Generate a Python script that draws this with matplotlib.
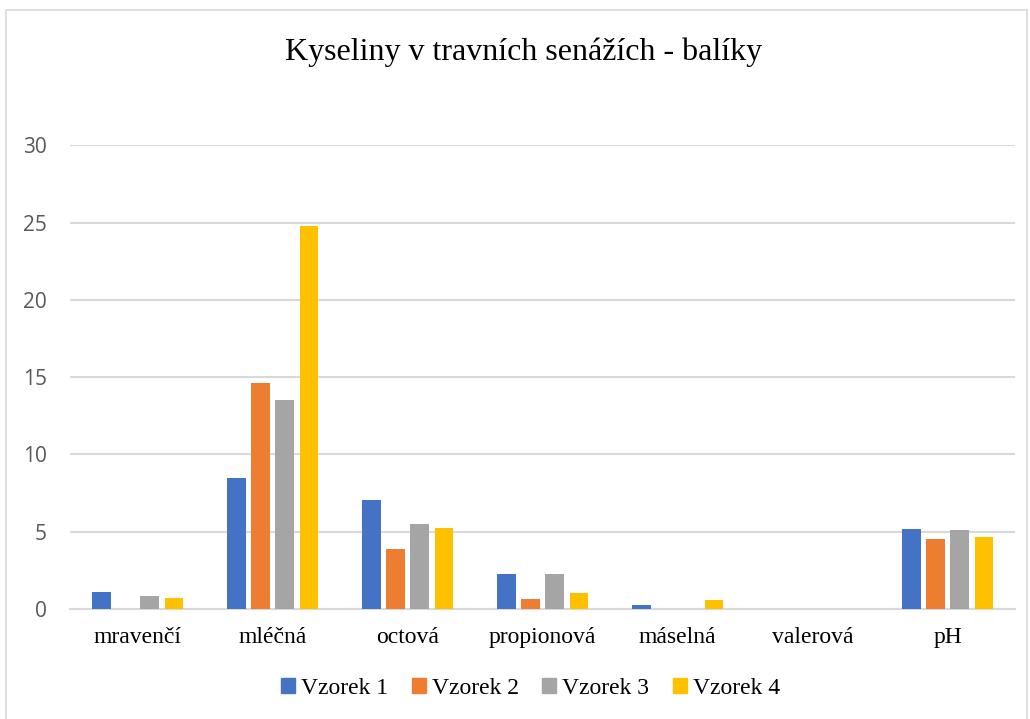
import matplotlib.pyplot as plt
import matplotlib.patches as mpatches
import numpy as np

categories = ["mravenčí", "mléčná", "octová", "propionová", "máselná", "valerová", "pH"]
vzorek_1 = [1.12, 8.45, 7.08, 2.28, 0.28, 0, 5.15]
vzorek_2 = [0, 14.62, 3.89, 0.65, 0, 0, 4.54]
vzorek_3 = [0.85, 13.5, 5.53, 2.24, 0, 0, 5.12]
vzorek_4 = [0.72, 24.8, 5.25, 1.03, 0.55, 0, 4.63]
series = [("Vzorek 1", vzorek_1), ("Vzorek 2", vzorek_2),
          ("Vzorek 3", vzorek_3), ("Vzorek 4", vzorek_4)]
colors = ["#4472C4", "#ED7D31", "#A5A5A5", "#FFC000"]

serif = "Liberation Serif"

fig = plt.figure(figsize=(10.3, 7.19), dpi=100)
ax = fig.add_axes([0.068, 0.153, 0.9175, 0.645])

x = np.arange(len(categories))
step = 0.18
width = 0.14
for i, (name, vals) in enumerate(series):
    ax.bar(x + (i - 1.5) * step, vals, width, color=colors[i], label=name, zorder=3)

ax.set_xlim(-0.5, len(categories) - 0.5)
ax.set_ylim(0, 30)
ax.set_yticks([0, 5, 10, 15, 20, 25, 30])
ax.yaxis.grid(True, color="#d9d9d9", lw=1.5, zorder=0)
ax.set_axisbelow(True)
for s in ["top", "right", "left"]:
    ax.spines[s].set_visible(False)
ax.spines["bottom"].set_color("#d9d9d9")
ax.spines["bottom"].set_linewidth(1.5)
ax.tick_params(axis="both", length=0)
ax.tick_params(axis="y", labelsize=15, labelcolor="#595959", pad=16.5)
for t in ax.get_yticklabels():
    t.set_fontfamily("Open Sans")
ax.set_xticks(x)
ax.set_xticklabels(categories, fontfamily=serif, fontsize=17, color="#000000")
ax.tick_params(axis="x", pad=13)

fig.text(0.508, 0.927, "Kyseliny v travních senážích - balíky", ha="center", va="center",
         fontfamily=serif, fontsize=23)

handles = [mpatches.Patch(color=c) for c in colors]
fig.legend(handles, [n for n, _ in series], loc="center", bbox_to_anchor=(0.515, 0.043),
           ncol=4, frameon=False, prop={"family": serif, "size": 17},
           handlelength=0.6, handleheight=0.6, handletextpad=0.25, columnspacing=1.0)

fig.patches.append(mpatches.Rectangle((6 / 1030, -0.01), 1021 / 1030, 1.01 - 10 / 719,
                                      transform=fig.transFigure, fill=False,
                                      edgecolor="#d9d9d9", lw=1.2))

fig.savefig("out.png", dpi=100, facecolor="white")
